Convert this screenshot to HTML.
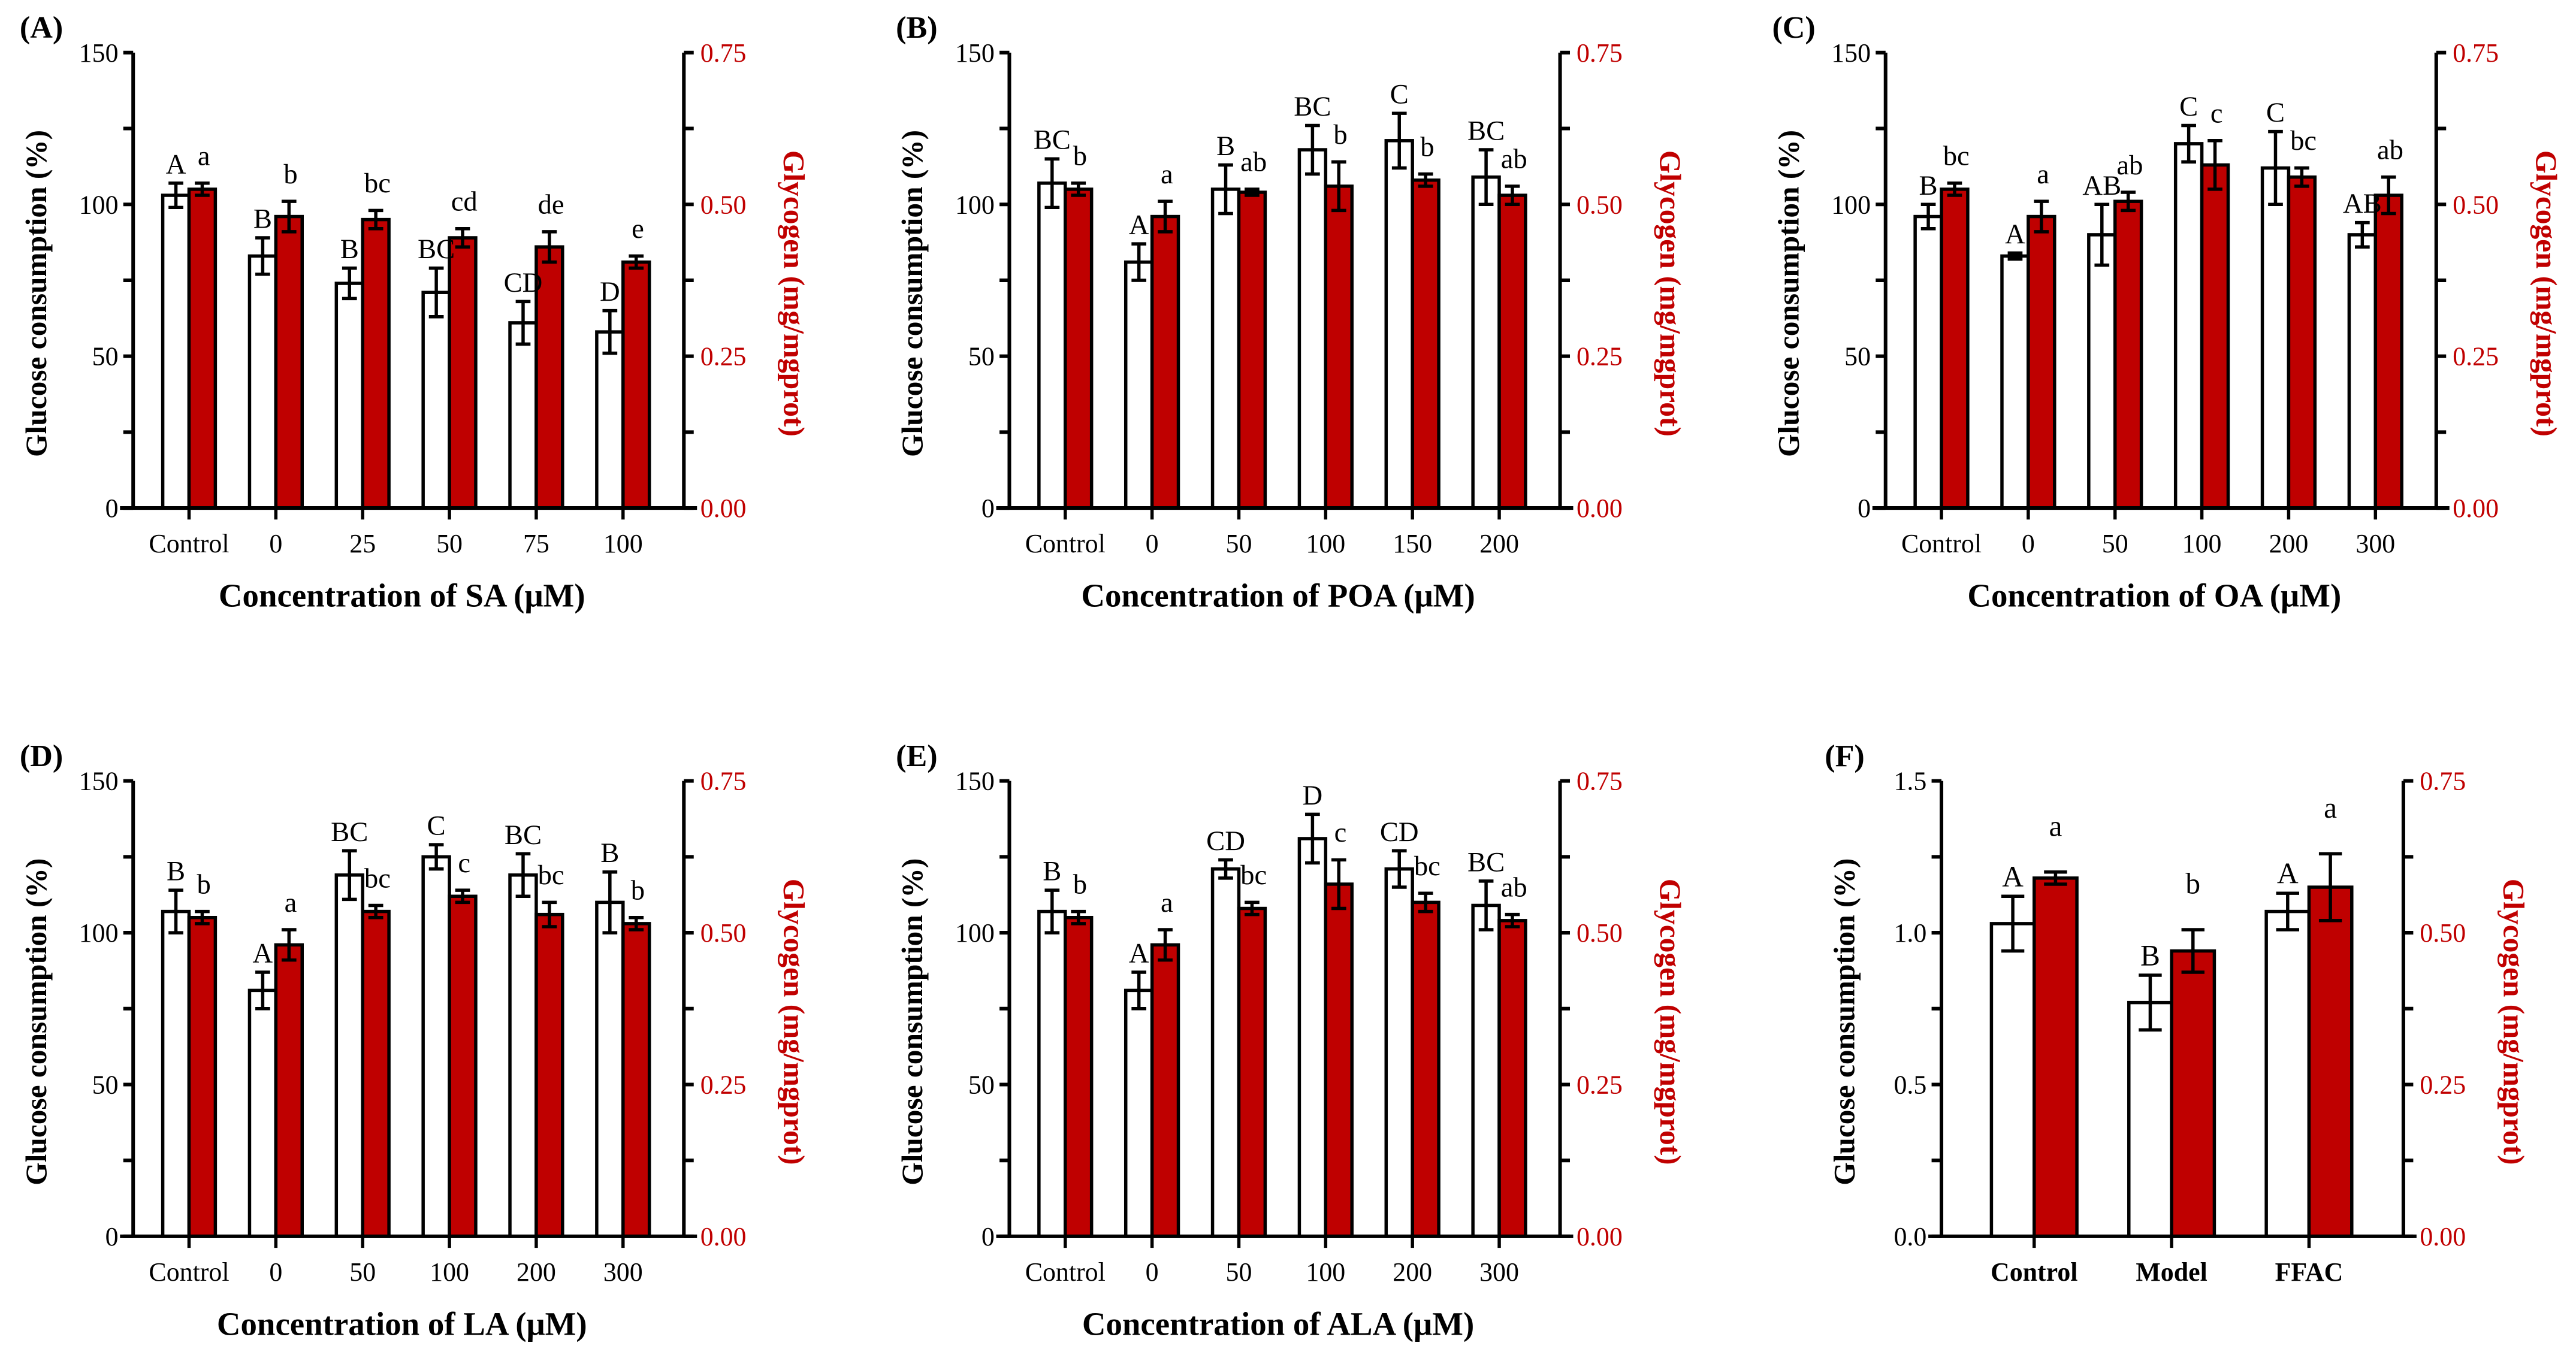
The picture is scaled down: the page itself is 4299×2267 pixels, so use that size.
<!DOCTYPE html>
<html><head><meta charset="utf-8"><style>
html,body{margin:0;padding:0;background:#fff;}
svg{display:block;}
text{font-family:"Liberation Serif","DejaVu Serif",serif;}
</style></head>
<body>
<svg id="fig" xmlns="http://www.w3.org/2000/svg" width="4299" height="2267" viewBox="0 0 1567 826" preserveAspectRatio="none"></svg>
<script>
// ---- data ----
const catsA = ["Control","0","25","50","75","100"];
const gluA = [103,83,74,71,61,58];
const gluErrA = [4,6,5,8,7,7];
const glyA = [0.525,0.48,0.475,0.445,0.43,0.405];
const glyErrA = [0.01,0.025,0.015,0.015,0.025,0.01];
const upA = ["A","B","B","BC","CD","D"];
const loA = ["a","b","bc","cd","de","e"];

const catsB = ["Control","0","50","100","150","200"];
const gluB = [107,81,105,118,121,109];
const gluErrB = [8,6,8,8,9,9];
const glyB = [0.525,0.48,0.52,0.53,0.54,0.515];
const glyErrB = [0.01,0.025,0.005,0.04,0.01,0.015];
const upB = ["BC","A","B","BC","C","BC"];
const loB = ["b","a","ab","b","b","ab"];

const catsC = ["Control","0","50","100","200","300"];
const gluC = [96,83,90,120,112,90];
const gluErrC = [4,1,10,6,12,4];
const glyC = [0.525,0.48,0.505,0.565,0.545,0.515];
const glyErrC = [0.01,0.025,0.015,0.04,0.015,0.03];
const upC = ["B","A","AB","C","C","AB"];
const loC = ["bc","a","ab","c","bc","ab"];

const catsD = ["Control","0","50","100","200","300"];
const gluD = [107,81,119,125,119,110];
const gluErrD = [7,6,8,4,7,10];
const glyD = [0.525,0.48,0.535,0.56,0.53,0.515];
const glyErrD = [0.01,0.025,0.01,0.01,0.02,0.01];
const upD = ["B","A","BC","C","BC","B"];
const loD = ["b","a","bc","c","bc","b"];

const catsE = ["Control","0","50","100","200","300"];
const gluE = [107,81,121,131,121,109];
const gluErrE = [7,6,3,8,6,8];
const glyE = [0.525,0.48,0.54,0.58,0.55,0.52];
const glyErrE = [0.01,0.025,0.01,0.04,0.015,0.01];
const upE = ["B","A","CD","D","CD","BC"];
const loE = ["b","a","bc","c","bc","ab"];

const catsF = ["Control","Model","FFAC"];
const gluF = [1.03,0.77,1.07];
const gluErrF = [0.09,0.09,0.06];
const glyF = [0.59,0.47,0.575];
const glyErrF = [0.01,0.035,0.055];
const upF = ["A","B","A"];
const loF = ["a","b","a"];

const leftTicks150 = ["0","50","100","150"];
const leftTicks15 = ["0.0","0.5","1.0","1.5"];
const rightTicks = ["0.00","0.25","0.50","0.75"];

// ---- drawing ----
const NS="http://www.w3.org/2000/svg";
const svg=document.getElementById('fig');
const RED="#c00000", BAR="#bf0000";
function mk(tag,attrs,parent){const e=document.createElementNS(NS,tag);for(const k in attrs)e.setAttribute(k,attrs[k]);(parent||svg).appendChild(e);return e;}
function line(g,x1,y1,x2,y2,w){return mk('line',{x1:x1,y1:y1,x2:x2,y2:y2,stroke:'#000','stroke-width':w||1.5},g);}
function txt(g,x,y,s,opts){const t=mk('text',Object.assign({x:x,y:y},opts||{}),g);t.textContent=s;return t;}

const panels=[
 {id:"A",L:81,T:32,cats:catsA,glu:gluA,ge:gluErrA,gly:glyA,ye:glyErrA,up:upA,lo:loA,xt:"Concentration of SA (μM)"},
 {id:"B",L:614,T:32,cats:catsB,glu:gluB,ge:gluErrB,gly:glyB,ye:glyErrB,up:upB,lo:loB,xt:"Concentration of POA (μM)"},
 {id:"C",L:1147,T:32,cats:catsC,glu:gluC,ge:gluErrC,gly:glyC,ye:glyErrC,up:upC,lo:loC,xt:"Concentration of OA (μM)"},
 {id:"D",L:81,T:475,cats:catsD,glu:gluD,ge:gluErrD,gly:glyD,ye:glyErrD,up:upD,lo:loD,xt:"Concentration of LA (μM)"},
 {id:"E",L:614,T:475,cats:catsE,glu:gluE,ge:gluErrE,gly:glyE,ye:glyErrE,up:upE,lo:loE,xt:"Concentration of ALA (μM)"},
 {id:"F",L:1181,T:475,cats:catsF,glu:gluF,ge:gluErrF,gly:glyF,ye:glyErrF,up:upF,lo:loF,xt:null}
];

panels.forEach(p=>{
  const isF=p.id==="F";
  const W=isF?281:335, H=277;
  const L=p.L,T=p.T,B=T+H,R=L+W;
  const lmax=isF?1.5:150, rmax=0.75;
  const yl=v=>B-v/lmax*H, yr=v=>B-v/rmax*H;
  const step=isF?83.6:52.8, first=isF?56.4:34;
  const xc=i=>L+first+i*step;
  const bw=isF?26:16;
  const g=mk('g',{});
  
  

  const pl=txt(g,L-69+(isF?-2:0),T-9,"("+p.id+")",{'font-size':19,'font-weight':'bold'});
  
  

  p.cats.forEach((c,i)=>{
    const x=xc(i);
    const wb=mk('rect',{x:x-bw,y:yl(p.glu[i]),width:bw,height:B-yl(p.glu[i]),fill:'#fff',stroke:'#000','stroke-width':2},g);
    
    
    const rb=mk('rect',{x:x,y:yr(p.gly[i]),width:bw,height:B-yr(p.gly[i]),fill:BAR,stroke:'#000','stroke-width':2},g);
    
    
    const cw=isF?7:4.5;
    const gx=x-bw/2, t1=yl(p.glu[i]+p.ge[i]), b1=yl(p.glu[i]-p.ge[i]);
    const e1=mk('g',{},g);
    
    
    line(e1,gx,t1,gx,b1,2);line(e1,gx-cw,t1,gx+cw,t1,2);line(e1,gx-cw,b1,gx+cw,b1,2);
    const rx=x+bw/2, t2=yr(p.gly[i]+p.ye[i]), b2=yr(p.gly[i]-p.ye[i]);
    const e2=mk('g',{},g);
    
    
    line(e2,rx,t2,rx,b2,2);line(e2,rx-cw,t2,rx+cw,t2,2);line(e2,rx-cw,b2,rx+cw,b2,2);
    const u=txt(g,gx,t1-6,p.up[i],{'font-size':isF?18:17,'text-anchor':'middle'});
    
    
    const lo=txt(g,rx+(isF?0:1),t2-(isF?22:11),p.lo[i],{'font-size':isF?18:17,'text-anchor':'middle'});
    
    
    line(g,x,B,x,B+7,2);
    const xl=txt(g,x,B+27,c,{'font-size':16,'text-anchor':'middle','font-weight':isF?'bold':'normal'});
    
    
  });

  const ax=mk('g',{},g);
  
  
  line(ax,L,T,L,B,2.2);line(ax,R,T,R,B,2.2);line(ax,L-8,B,R+8,B,2.2);
  for(let k=0;k<=6;k++){
    const y=B-k*H/6;
    line(ax,L-6,y,L,y,2.2);
    line(ax,R,y,R+6,y,2.2);
  }
  const lt=isF?leftTicks15:leftTicks150;
  lt.forEach((s,k)=>{
    const t=txt(ax,L-9,B-k*H/3+5.5,s,{'font-size':16,'text-anchor':'end'});
    
    
  });
  rightTicks.forEach((s,k)=>{
    const t=txt(ax,R+10,B-k*H/3+5.5,s,{'font-size':16,fill:RED});
    
    
  });
  const yt=txt(ax,0,0,"Glucose consumption (%)",{'font-size':18,'font-weight':'bold','text-anchor':'middle',transform:`translate(${L-53},${T+H/2+8}) rotate(-90)`});
  
  
  const rt=txt(ax,0,0,"Glycogen (mg/mgprot)",{'font-size':18,'font-weight':'bold','text-anchor':'middle',fill:RED,transform:`translate(${R+61},${T+H/2+8}) rotate(90)`});
  
  
  if(p.xt){
    const xt=txt(ax,(L+R)/2-4,B+60,p.xt,{'font-size':20,'font-weight':'bold','text-anchor':'middle'});
    
    
  }
});
</script>
</body></html>
